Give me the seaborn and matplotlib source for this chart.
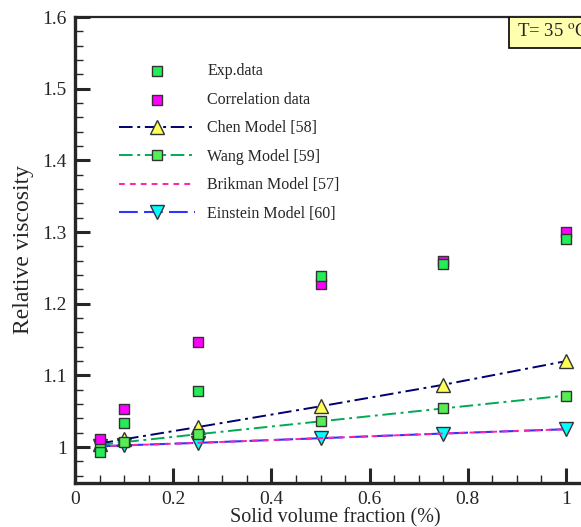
import numpy as np
import pandas as pd
import matplotlib
matplotlib.use("Agg")
import matplotlib.pyplot as plt
from matplotlib.patches import Rectangle
from matplotlib.ticker import MultipleLocator, FuncFormatter
import seaborn as sns

# Solid volume fraction (%)
phi = [0.05, 0.1, 0.25, 0.5, 0.75, 1.0]

# Relative viscosity at T = 35 C
exp_data = [0.993, 1.034, 1.078, 1.239, 1.255, 1.290]
corr_data = [1.011, 1.053, 1.147, 1.227, 1.259, 1.300]
chen_model = [1.005, 1.011, 1.028, 1.057, 1.087, 1.120]
wang_model = [1.003, 1.007, 1.018, 1.036, 1.054, 1.072]
brinkman_model = [1.001, 1.0025, 1.006, 1.0125, 1.019, 1.025]
einstein_model = [1.001, 1.0025, 1.006, 1.0125, 1.019, 1.025]

x_ticks = [0, 0.2, 0.4, 0.6, 0.8, 1.0]
y_ticks = [1.0, 1.1, 1.2, 1.3, 1.4, 1.5, 1.6]

sns.set_style("ticks")
plt.rcParams["font.family"] = ["Liberation Serif", "DejaVu Serif"]
plt.rcParams["mathtext.fontset"] = "stix"

W, H = 581, 527
fig = plt.figure(figsize=(W / 100, H / 100), dpi=100)
x_max = 1.06
ax = fig.add_axes([75 / W, 44 / H, x_max * 491 / W, 466 / H])

df = pd.DataFrame({"phi": phi, "exp": exp_data, "corr": corr_data,
                   "chen": chen_model, "wang": wang_model,
                   "brinkman": brinkman_model, "einstein": einstein_model})

edge = "#333333"
sq = dict(marker="s", s=44, edgecolor=edge, linewidth=1.0, zorder=6)

sns.scatterplot(data=df, x="phi", y="corr", color="#ff00ff", label="Correlation data", ax=ax, **sq)
sns.scatterplot(data=df, x="phi", y="exp", color="#22ee55", label="Exp.data", ax=ax, **sq)

sns.lineplot(data=df, x="phi", y="chen", color="#000070", linewidth=1.4,
             linestyle=(0, (7, 2.4, 1.5, 2.4)), marker="^", markersize=9.5,
             markerfacecolor="#ffff55", markeredgecolor=edge, markeredgewidth=1.0,
             label="Chen Model [58]", ax=ax, zorder=4)
sns.lineplot(data=df, x="phi", y="wang", color="#00aa55", linewidth=1.4,
             linestyle=(0, (7, 2.4, 1.5, 2.4)), marker="s", markersize=7,
             markerfacecolor="#55ee55", markeredgecolor=edge, markeredgewidth=1.0,
             label="Wang Model [59]", ax=ax, zorder=4)
sns.lineplot(data=df, x="phi", y="einstein", color="#3333ff", linewidth=1.5,
             linestyle=(0, (9, 3)), marker="v", markersize=10,
             markerfacecolor="#00ffff", markeredgecolor=edge, markeredgewidth=1.0,
             label="Einstein Model [60]", ax=ax, zorder=3)
sns.lineplot(data=df, x="phi", y="brinkman", color="#ff22aa", linewidth=1.4,
             linestyle=(0, (3, 2.6)), label="Brikman Model [57]", ax=ax, zorder=3.5)

ax.set_xlim(0, x_max)
ax.set_ylim(0.95, 1.6)
ax.set_xticks(x_ticks)
ax.set_yticks(y_ticks)
ax.xaxis.set_minor_locator(MultipleLocator(0.05))
ax.yaxis.set_minor_locator(MultipleLocator(0.02))
fmt = FuncFormatter(lambda v, p: f"{v:g}")
ax.xaxis.set_major_formatter(fmt)
ax.yaxis.set_major_formatter(fmt)

ax.tick_params(which="major", direction="in", length=11, width=2.2,
               labelsize=14, pad=6, top=False, right=False)
ax.tick_params(which="minor", direction="in", length=6, width=1.0,
               top=False, right=False)
for side in ["left", "bottom"]:
    ax.spines[side].set_linewidth(2.4)
ax.spines["top"].set_linewidth(1.6)
ax.spines["right"].set_visible(False)

ax.set_xlabel("Solid volume fraction (%)", fontsize=14.5, labelpad=0)
ax.set_ylabel("Relative viscosity", fontsize=17, labelpad=6)

# temperature tag in the upper right corner
y_top = 1.6
box_h = 31 / 716.9
ax.add_patch(Rectangle(((509 - 75) / 491, y_top - box_h), 0.3, box_h,
                       facecolor="#ffffb0", edgecolor="black", linewidth=1.2,
                       zorder=7))
ax.text((517 - 75) / 491, y_top - box_h / 2, r"T= 35 $^{\rm o}$C", fontsize=13.5,
        va="center", ha="left", zorder=8)

handles, labels = ax.get_legend_handles_labels()
order = ["Exp.data", "Correlation data", "Chen Model [58]", "Wang Model [59]",
         "Brikman Model [57]", "Einstein Model [60]"]
hmap = dict(zip(labels, handles))
ax.legend([hmap[k] for k in order], order, loc="upper left",
          bbox_to_anchor=((113 - 75) / (x_max * 491), 1 - (57 - 17) / 466),
          frameon=False, fontsize=11.5, handlelength=4.75, handletextpad=0.75,
          labelspacing=0.78, borderaxespad=0, scatterpoints=1)

fig.savefig("out.png", dpi=100)
